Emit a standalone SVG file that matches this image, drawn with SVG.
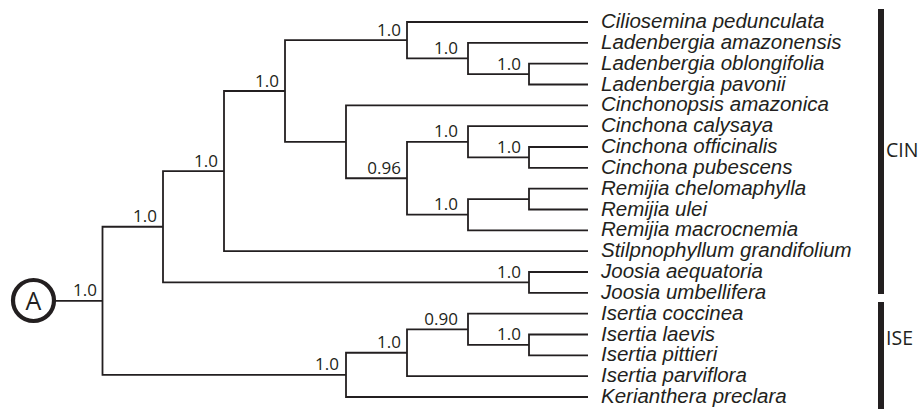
<svg xmlns="http://www.w3.org/2000/svg" width="920" height="409" viewBox="0 0 920 409">
  <style>
    .br { fill: none; stroke: #231f20; stroke-width: 1.8; }
    .sup { font-family: "Open Sans", "Liberation Sans", sans-serif; font-size: 17px; fill: #231f20; text-anchor: end; }
    .taxon { font-family: "Liberation Sans", Arial, sans-serif; font-style: italic; font-size: 20.5px; fill: #231f20; }
    .clade { font-family: "Open Sans", "Liberation Sans", sans-serif; font-size: 19.5px; fill: #231f20; }
    .bar { fill: #231f20; }
  </style>

  <!-- branches: each path is one internal node (elbow to its two children) -->
  <g id="connectors">
    <path class="br" d="M55,300.8 H102.5"/>
    <path class="br" d="M163,226.75 H102.5 V374.9 H346"/>
    <path class="br" d="M224,171.1 H163 V282.4 H529"/>
    <path class="br" d="M285,91 H224 V251.2 H588"/>
    <path class="br" d="M407,40.2 H285 V141.8 H346"/>
    <path class="br" d="M588,22 H407 V58.45 H468"/>
    <path class="br" d="M588,42.8 H468 V74.1 H529"/>
    <path class="br" d="M588,63.7 H529 V84.5 H588"/>
    <path class="br" d="M588,105.3 H346 V178.25 H407"/>
    <path class="br" d="M468,141.8 H407 V214.7 H468"/>
    <path class="br" d="M588,126.2 H468 V157.4 H529"/>
    <path class="br" d="M588,147 H529 V167.8 H588"/>
    <path class="br" d="M529,199.1 H468 V230.3 H588"/>
    <path class="br" d="M588,188.7 H529 V209.5 H588"/>
    <path class="br" d="M588,272 H529 V292.8 H588"/>
    <path class="br" d="M407,352.75 H346 V397 H588"/>
    <path class="br" d="M468,329.3 H407 V376.2 H588"/>
    <path class="br" d="M588,313.7 H468 V344.9 H529"/>
    <path class="br" d="M588,334.5 H529 V355.3 H588"/>
  </g>

  <!-- root marker -->
  <g id="root">
    <circle cx="33.5" cy="300.5" r="20.5" fill="#fff" stroke="#231f20" stroke-width="4.2"/>
    <text x="33.5" y="309.5" text-anchor="middle" font-family="'Open Sans', 'Liberation Sans', sans-serif" font-size="25" fill="#231f20">A</text>
  </g>

  <!-- posterior support values -->
  <g id="node-root"><text class="sup" x="97" y="296">1.0</text></g>
  <g id="node-cin-joo"><text class="sup" x="157" y="222">1.0</text></g>
  <g id="node-cin-stilp"><text class="sup" x="218" y="166.6">1.0</text></g>
  <g id="node-cin-core"><text class="sup" x="279" y="86.5">1.0</text></g>
  <g id="node-cil-lad"><text class="sup" x="401" y="35.7">1.0</text></g>
  <g id="node-lad"><text class="sup" x="458" y="54">1.0</text></g>
  <g id="node-lad-ob-pav"><text class="sup" x="521" y="69.6">1.0</text></g>
  <g id="node-cinch-rem"><text class="sup" x="401" y="173.7">0.96</text></g>
  <g id="node-cinchona"><text class="sup" x="458" y="137.3">1.0</text></g>
  <g id="node-cin-off-pub"><text class="sup" x="521" y="152.9">1.0</text></g>
  <g id="node-remijia"><text class="sup" x="458" y="210.2">1.0</text></g>
  <g id="node-joosia"><text class="sup" x="521" y="277.9">1.0</text></g>
  <g id="node-ise-ker"><text class="sup" x="339" y="370.4">1.0</text></g>
  <g id="node-isertia"><text class="sup" x="401" y="348.2">1.0</text></g>
  <g id="node-ise-coc"><text class="sup" x="458" y="324.8">0.90</text></g>
  <g id="node-ise-lae-pit"><text class="sup" x="521" y="340.4">1.0</text></g>

  <!-- terminal taxa -->
  <g id="taxon-01"><text class="taxon" x="601" y="28">Ciliosemina pedunculata</text></g>
  <g id="taxon-02"><text class="taxon" x="601" y="48.8">Ladenbergia amazonensis</text></g>
  <g id="taxon-03"><text class="taxon" x="601" y="69.7">Ladenbergia oblongifolia</text></g>
  <g id="taxon-04"><text class="taxon" x="601" y="90.5">Ladenbergia pavonii</text></g>
  <g id="taxon-05"><text class="taxon" x="601" y="111.3">Cinchonopsis amazonica</text></g>
  <g id="taxon-06"><text class="taxon" x="601" y="132.2">Cinchona calysaya</text></g>
  <g id="taxon-07"><text class="taxon" x="601" y="153">Cinchona officinalis</text></g>
  <g id="taxon-08"><text class="taxon" x="601" y="173.8">Cinchona pubescens</text></g>
  <g id="taxon-09"><text class="taxon" x="601" y="194.7">Remijia chelomaphylla</text></g>
  <g id="taxon-10"><text class="taxon" x="601" y="215.5">Remijia ulei</text></g>
  <g id="taxon-11"><text class="taxon" x="601" y="236.3">Remijia macrocnemia</text></g>
  <g id="taxon-12"><text class="taxon" x="601" y="257.2">Stilpnophyllum grandifolium</text></g>
  <g id="taxon-13"><text class="taxon" x="601" y="278">Joosia aequatoria</text></g>
  <g id="taxon-14"><text class="taxon" x="601" y="298.8">Joosia umbellifera</text></g>
  <g id="taxon-15"><text class="taxon" x="601" y="319.7">Isertia coccinea</text></g>
  <g id="taxon-16"><text class="taxon" x="601" y="340.5">Isertia laevis</text></g>
  <g id="taxon-17"><text class="taxon" x="601" y="361.3">Isertia pittieri</text></g>
  <g id="taxon-18"><text class="taxon" x="601" y="382.2">Isertia parviflora</text></g>
  <g id="taxon-19"><text class="taxon" x="601" y="403">Kerianthera preclara</text></g>

  <!-- clade brackets -->
  <g id="clade-cin">
    <rect class="bar" x="878" y="9" width="6" height="285"/>
    <text class="clade" x="886" y="157">CIN</text>
  </g>
  <g id="clade-ise">
    <rect class="bar" x="878" y="302" width="6" height="107"/>
    <text class="clade" x="886" y="345">ISE</text>
  </g>
</svg>
